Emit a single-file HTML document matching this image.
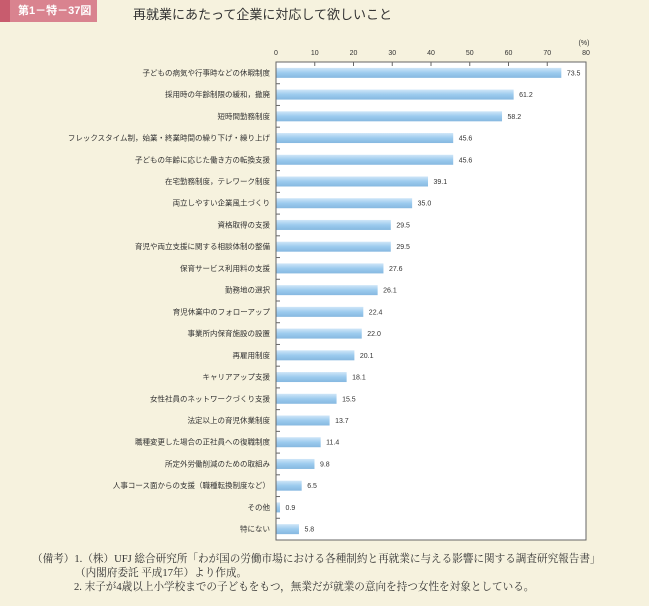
<!DOCTYPE html>
<html><head><meta charset="utf-8"><style>
body{margin:0;width:649px;height:606px;background:#f6f2de;position:relative;overflow:hidden;font-family:"Liberation Sans","Noto Sans CJK JP",sans-serif}
.hd{position:absolute;left:0;top:0;width:97px;height:22px;background:#d9838f;color:#fff;font-size:11px;font-weight:bold;line-height:22px;white-space:nowrap}
.hd span{position:absolute;left:18px;top:0}
.hd:before{content:"";position:absolute;left:0;top:0;width:10px;height:22px;background:#c85c6e}
.tt{position:absolute;left:133px;top:4px;font-size:13px;color:#333}
.fn{position:absolute;left:32px;font-family:"Liberation Serif","Noto Serif CJK SC",serif;font-size:10.6px;color:#333;white-space:nowrap}
</style></head><body>
<div class="hd"><span>第1－特－37図</span></div>
<div class="tt">再就業にあたって企業に対応して欲しいこと</div>
<svg width="649" height="606" style="position:absolute;left:0;top:0" font-family="Liberation Sans,Noto Sans CJK JP,sans-serif">
<defs><linearGradient id="g" x1="0" y1="0" x2="0" y2="1"><stop offset="0" stop-color="#cfe6f8"/><stop offset="0.5" stop-color="#9ccbee"/><stop offset="1" stop-color="#86b8e0"/></linearGradient></defs>
<rect x="276" y="62" width="310" height="478" fill="#fff" stroke="#666" stroke-width="1"/>
<g font-size="7" fill="#333" text-anchor="middle">
<text x="276" y="55">0</text><text x="314.75" y="55">10</text><text x="353.5" y="55">20</text><text x="392.25" y="55">30</text><text x="431" y="55">40</text><text x="469.75" y="55">50</text><text x="508.5" y="55">60</text><text x="547.25" y="55">70</text><text x="586" y="55">80</text>
<text x="584" y="45">(%)</text></g>
<g stroke="#666"><line x1="314.75" y1="62" x2="314.75" y2="66"/><line x1="353.5" y1="62" x2="353.5" y2="66"/><line x1="392.25" y1="62" x2="392.25" y2="66"/><line x1="431" y1="62" x2="431" y2="66"/><line x1="469.75" y1="62" x2="469.75" y2="66"/><line x1="508.5" y1="62" x2="508.5" y2="66"/><line x1="547.25" y1="62" x2="547.25" y2="66"/></g>
<g id="bars"></g>
</svg>
<div class="fn" style="top:551px">（備考）1.（株）UFJ 総合研究所「わが国の労働市場における各種制約と再就業に与える影響に関する調査研究報告書」</div>
<div class="fn" style="top:565px;left:75px">（内閣府委託 平成17年）より作成。</div>
<div class="fn" style="top:579px;left:74px">2. 末子が4歳以上小学校までの子どもをもつ，無業だが就業の意向を持つ女性を対象としている。</div>
<script>
var d=[["子どもの病気や行事時などの休暇制度",73.5],["採用時の年齢制限の緩和，撤廃",61.2],["短時間勤務制度",58.2],["フレックスタイム制，始業・終業時間の繰り下げ・繰り上げ",45.6],["子どもの年齢に応じた働き方の転換支援",45.6],["在宅勤務制度，テレワーク制度",39.1],["両立しやすい企業風土づくり",35.0],["資格取得の支援",29.5],["育児や両立支援に関する相談体制の整備",29.5],["保育サービス利用料の支援",27.6],["勤務地の選択",26.1],["育児休業中のフォローアップ",22.4],["事業所内保育施設の設置",22.0],["再雇用制度",20.1],["キャリアアップ支援",18.1],["女性社員のネットワークづくり支援",15.5],["法定以上の育児休業制度",13.7],["職種変更した場合の正社員への復職制度",11.4],["所定外労働削減のための取組み",9.8],["人事コース面からの支援（職種転換制度など）",6.5],["その他",0.9],["特にない",5.8]];
var s="",h=478/22;
d.forEach(function(r,i){var c=62+h*(i+0.5),w=r[1]*3.875;
s+='<rect x="276.5" y="'+(c-5)+'" width="'+w+'" height="10" fill="url(#g)"/>';
s+='<text x="270" y="'+(c+2.5)+'" font-size="7.5" fill="#333" text-anchor="end">'+r[0]+'</text>';
s+='<text x="'+(276+w+6)+'" y="'+(c+2.5)+'" font-size="7" fill="#333">'+r[1].toFixed(1)+'</text>';
if(i>0)s+='<line x1="276" y1="'+(62+h*i)+'" x2="280" y2="'+(62+h*i)+'" stroke="#666"/>';});
document.getElementById("bars").innerHTML=s;
</script>
</body></html>
